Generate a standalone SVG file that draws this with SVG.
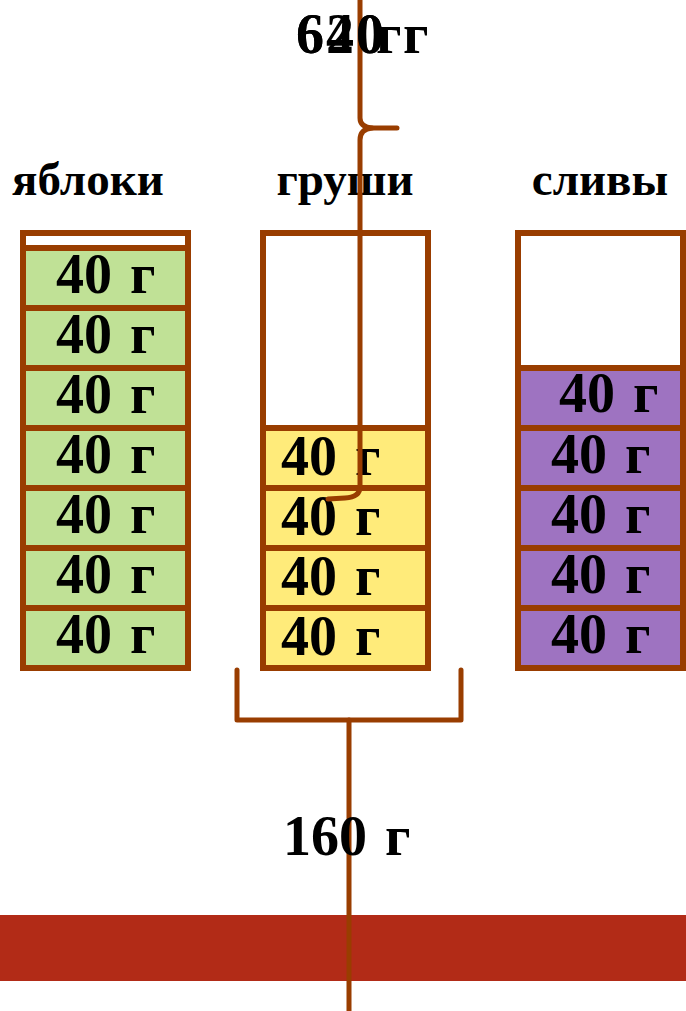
<svg xmlns="http://www.w3.org/2000/svg" width="686" height="1011" viewBox="0 0 686 1011">
<style>
.t{font-family:"Liberation Serif","Times New Roman",serif;font-weight:bold;fill:#000}
.v{font-size:56px;word-spacing:4px}
.top{letter-spacing:2px}
.lbl{font-size:47px}
.cell{stroke:#993D00;stroke-width:6}
.g{fill:#C0E196}
.y{fill:#FFEB7A}
.p{fill:#9E73C1}
.w{fill:#FFFFFF}
.br{fill:none;stroke:#993D00;stroke-width:5;stroke-linecap:round;stroke-linejoin:round}
</style>
<rect width="686" height="1011" fill="#FFFFFF"/>
<rect id="bar" x="0" y="915" width="686" height="66" fill="#B22B17"/>
<g id="labels">
<text class="t lbl" x="88" y="195" text-anchor="middle">яблоки</text>
<text class="t lbl" x="345" y="195" text-anchor="middle">груши</text>
<text class="t lbl" x="600" y="195" text-anchor="middle">сливы</text>
</g>
<g id="apples">
<rect class="cell w" x="23" y="233" width="165" height="435"/>
<rect class="cell g" x="23" y="248" width="165" height="60"/>
<rect class="cell g" x="23" y="308" width="165" height="60"/>
<rect class="cell g" x="23" y="368" width="165" height="60"/>
<rect class="cell g" x="23" y="428" width="165" height="60"/>
<rect class="cell g" x="23" y="488" width="165" height="60"/>
<rect class="cell g" x="23" y="548" width="165" height="60"/>
<rect class="cell g" x="23" y="608" width="165" height="60"/>
<text class="t v" x="56" y="293">40 г</text>
<text class="t v" x="56" y="353">40 г</text>
<text class="t v" x="56" y="413">40 г</text>
<text class="t v" x="56" y="473">40 г</text>
<text class="t v" x="56" y="533">40 г</text>
<text class="t v" x="56" y="593">40 г</text>
<text class="t v" x="56" y="653">40 г</text>
</g>
<g id="pears">
<rect class="cell w" x="263" y="233" width="165" height="435"/>
<rect class="cell y" x="263" y="428" width="165" height="60"/>
<rect class="cell y" x="263" y="488" width="165" height="60"/>
<rect class="cell y" x="263" y="548" width="165" height="60"/>
<rect class="cell y" x="263" y="608" width="165" height="60"/>
<text class="t v" x="281" y="475">40 г</text>
<text class="t v" x="281" y="535">40 г</text>
<text class="t v" x="281" y="595">40 г</text>
<text class="t v" x="281" y="655">40 г</text>
</g>
<g id="plums">
<rect class="cell w" x="518" y="233" width="165" height="435"/>
<rect class="cell p" x="518" y="368" width="165" height="60"/>
<rect class="cell p" x="518" y="428" width="165" height="60"/>
<rect class="cell p" x="518" y="488" width="165" height="60"/>
<rect class="cell p" x="518" y="548" width="165" height="60"/>
<rect class="cell p" x="518" y="608" width="165" height="60"/>
<text class="t v" x="559" y="412">40 г</text>
<text class="t v" x="551" y="473">40 г</text>
<text class="t v" x="551" y="533">40 г</text>
<text class="t v" x="551" y="593">40 г</text>
<text class="t v" x="551" y="653">40 г</text>
</g>
<g id="connectors">
<path class="br" d="M360 0 L360 118 Q360 127 372 128 L397 128"/>
<path class="br" d="M372 128 Q360 129 360 140 L360 487 Q360 497 345 498 L328 499"/>
<path class="br" d="M237 670 L237 720 L461 720 L461 670"/>
<path class="br" d="M349 720 L349 1011"/>
</g>
<g id="totals">
<text class="t v top" x="296" y="53">620<tspan x="376">г</tspan></text>
<text class="t v top" x="296" y="53">640<tspan x="403">г</tspan></text>
<text class="t v" x="283" y="855">160 г</text>
</g>
</svg>
